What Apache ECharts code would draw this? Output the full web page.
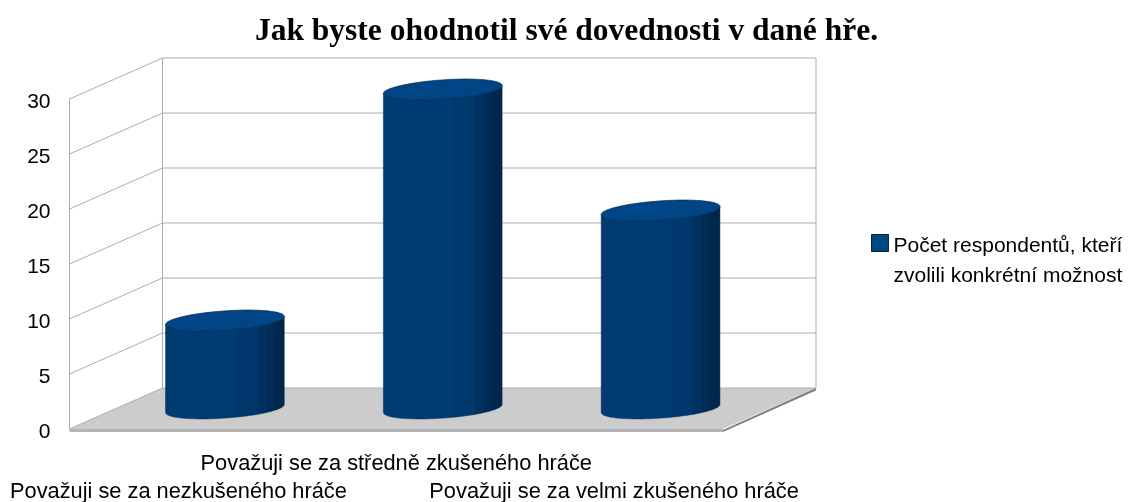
<!DOCTYPE html>
<html><head><meta charset="utf-8">
<style>html,body{margin:0;padding:0;background:#fff}#c{width:1133px;height:502px}</style>
<script src="https://cdn.jsdelivr.net/npm/echarts@6/dist/echarts.min.js"></script>
</head><body><div id="c"></div>
<script>
const titleText = 'Jak byste ohodnotil své dovednosti v dané hře.';
const seriesName = 'Počet respondentů, kteří\nzvolili konkrétní možnost';
const categories = ['Považuji se za nezkušeného hráče', 'Považuji se za středně zkušeného hráče', 'Považuji se za velmi zkušeného hráče'];
const values = [8, 29, 18];
const yTicks = [0, 5, 10, 15, 20, 25, 30];

const DX = 93, DY = -41;           // depth of the 3D box
const A = 59.5, B = 9.6, TILT = -4 * Math.PI / 180; // cylinder ellipse
const LINE = '#adadad';

function ell(cx, cy, t) {
  const u = A * Math.cos(t), v = B * Math.sin(t);
  return [cx + u * Math.cos(TILT) - v * Math.sin(TILT), cy + u * Math.sin(TILT) + v * Math.cos(TILT)];
}
function arc(cx, cy, from, to, n) {
  const p = [];
  for (let i = 0; i <= n; i++) p.push(ell(cx, cy, from + (to - from) * i / n));
  return p;
}

function renderBox(params, api) {
  const tick = api.value(0);
  const cs = params.coordSys;
  const x0 = cs.x, x1 = cs.x + cs.width;
  const y = api.coord([0, tick])[1];
  const children = [];
  const lineStyle = { stroke: LINE, lineWidth: 1, fill: null };
  if (tick === 0) {
    children.push({ type: 'polygon', shape: { points: [[x0, y], [x0 + DX, y + DY], [x1 + DX, y + DY], [x1, y]] }, style: { fill: '#cccccc' } });
    children.push({ type: 'polygon', shape: { points: [[x0, y], [x1, y], [x1, y + 3], [x0, y + 3]] }, style: { fill: '#b3b3b3' } });
    children.push({ type: 'polygon', shape: { points: [[x1, y + 1], [x1 + DX, y + DY], [x1 + DX, y + DY + 2.5], [x1, y + 3]] }, style: { fill: '#808080' } });
    const top = api.coord([0, yTicks[yTicks.length - 1]])[1];
    children.push({ type: 'line', shape: { x1: x0 + DX, y1: top + DY, x2: x0 + DX, y2: y + DY }, style: lineStyle });
    children.push({ type: 'line', shape: { x1: x1 + DX, y1: top + DY, x2: x1 + DX, y2: y + DY }, style: lineStyle });
  }
  children.push({ type: 'polyline', shape: { points: [[x0, y], [x0 + DX, y + DY], [x1 + DX, y + DY]] }, style: lineStyle });
  return { type: 'group', children };
}

function renderCylinder(params, api) {
  const idx = api.value(0);
  const top = api.coord([idx, api.value(1)]);
  const base = api.coord([idx, 0]);
  const cx = top[0] + DX / 2;
  const ty = top[1] + DY / 2, by = base[1] + DY / 2;
  const side = arc(cx, by, Math.PI, 0, 48).concat(arc(cx, ty, 0, Math.PI, 48));
  const cap = arc(cx, ty, 0, 2 * Math.PI, 96);
  return {
    type: 'group',
    children: [
      { type: 'polygon', shape: { points: side }, style: {
        stroke: '#002a52', lineWidth: 0.5,
        fill: new echarts.graphic.LinearGradient(0, 0, 1, 0, [
          { offset: 0, color: '#003a70' }, { offset: 0.1, color: '#003c74' },
          { offset: 0.585, color: '#003c74' }, { offset: 0.59, color: '#00376c' },
          { offset: 0.765, color: '#00376c' }, { offset: 0.77, color: '#003160' },
          { offset: 0.845, color: '#003160' }, { offset: 0.85, color: '#002c56' },
          { offset: 0.905, color: '#002c56' }, { offset: 0.91, color: '#00284e' },
          { offset: 1, color: '#00264a' }
        ]) } },
      { type: 'polygon', shape: { points: cap }, style: { fill: '#004586', stroke: '#00264a', lineWidth: 0.7 } }
    ]
  };
}

const chart = echarts.init(document.getElementById('c'), null, { renderer: 'canvas' });
chart.setOption({
  animation: false,
  backgroundColor: '#ffffff',
  title: { text: titleText, left: 'center', top: 11,
    textStyle: { fontFamily: 'Liberation Serif', fontWeight: 'bold', fontSize: 31.5, color: '#000' } },
  legend: { left: 871, top: 208, padding: 0, itemWidth: 17, itemHeight: 17, icon: 'rect',
    data: [{ name: seriesName, itemStyle: { color: '#004586', borderColor: '#00264a', borderWidth: 1 } }],
    selectedMode: false,
    formatter: n => '{s| }\n' + n.split('\n').map(l => '{a|' + l + '}').join('\n'),
    textStyle: { rich: {
      s: { fontSize: 10, lineHeight: 36 },
      a: { fontFamily: 'Liberation Sans', fontSize: 21, color: '#000', lineHeight: 30 }
    } },
    itemGap: 0 },
  grid: { left: 69.5, right: 410, top: 99, bottom: 73, outerBoundsMode: 'none' },
  xAxis: { type: 'category', data: categories, boundaryGap: true,
    axisLine: { show: false }, axisTick: { show: false },
    axisLabel: { interval: 0, margin: 21, fontFamily: 'Liberation Sans', fontSize: 21.8, color: '#000', lineHeight: 28, hideOverlap: false,
      formatter: (v, i) => (i === 1 ? v : '\n' + v) } },
  yAxis: { type: 'value', min: 0, max: 30, interval: 5,
    axisLine: { show: true, lineStyle: { color: LINE, width: 1 } }, axisTick: { show: false }, splitLine: { show: false },
    axisLabel: { margin: 19, fontFamily: 'Liberation Sans', fontSize: 21, color: '#000', verticalAlign: 'top', lineHeight: 6 } },
  series: [
    { type: 'custom', name: 'box', silent: true, z: 1, clip: false, renderItem: renderBox,
      encode: { y: 0 }, data: yTicks.map(t => [t]) },
    { type: 'custom', name: seriesName, z: 2, clip: false, renderItem: renderCylinder,
      itemStyle: { color: '#004586' }, encode: { x: 0, y: 1 },
      data: values.map((v, i) => [i, v]) }
  ]
});
</script></body></html>
